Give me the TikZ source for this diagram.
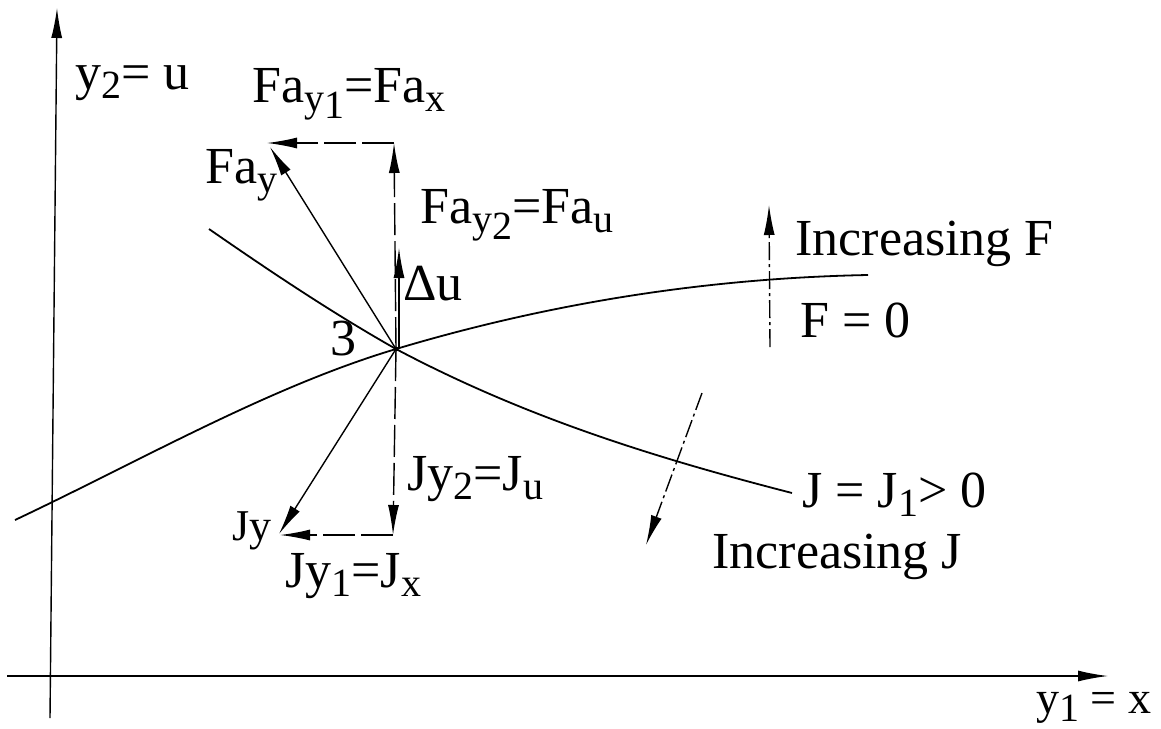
\documentclass[tikz,border=0pt]{standalone}
\usepackage{fontspec}
\setmainfont{Liberation Serif}
\usetikzlibrary{arrows.meta}
\newcommand{\sub}[1]{\raisebox{-0.4ex}{\fontsize{20}{20}\selectfont #1}}

\begin{document}
\begin{tikzpicture}[x=0.5pt,y=-0.5pt,
    vec/.style={-{Latex[length=15pt,width=5.5pt]}, line width=0.7pt},
    comp/.style={vec, dash pattern=on 16pt off 3pt},
    trend/.style={vec, dash pattern=on 9pt off 2pt on 1.5pt off 2pt},
    curve/.style={line width=0.9pt},
    lbl/.style={anchor=base west, inner sep=0pt, font=\fontsize{26}{30}\selectfont}]
  \useasboundingbox (0,0) rectangle (1161,728);
  % axes
  \coordinate (ybot) at (50,718);
  \coordinate (ytop) at (57,8);
  \coordinate (xleft) at (7,676);
  \coordinate (xright) at (1108,676);
  \draw[vec] (ybot) -- (ytop);
  \draw[vec] (xleft) -- (xright);
  % curves F = 0 and J = J1
  \coordinate (p3) at (396,349);
  \coordinate (f0) at (15,520);
  \coordinate (f1) at (868,275);
  \coordinate (j0) at (209,229);
  \coordinate (j1) at (792,493);
  \draw[curve] (f0) .. controls (142,460) and (269,387) .. (p3)
                    .. controls (553,302) and (711,278) .. (f1);
  \draw[curve] (j0) .. controls (271,272) and (334,314) .. (p3)
                    .. controls (528,419) and (660,459) .. (j1);
  \fill (p3) circle (2.5);
  % gradient of F and its parts
  \coordinate (fay) at (270,147);
  \coordinate (fau) at (394,143);
  \coordinate (fax) at (267,143);
  \draw[vec] (p3) -- (fay);
  \draw[comp] (p3) -- (fau);
  \draw[comp] (fau) -- (fax);
  \coordinate (du0) at (399,349);
  \coordinate (du1) at (399,248);
  \draw[vec] (du0) -- (du1);
  % gradient of J and its parts
  \coordinate (jy) at (279,534);
  \coordinate (ju) at (393,535);
  \coordinate (jx) at (280,535);
  \draw[vec] (p3) -- (jy);
  \draw[comp] (p3) -- (ju);
  \draw[comp] (ju) -- (jx);
  % directions of increase
  \coordinate (incF0) at (770,347);
  \coordinate (incF1) at (769,205);
  \coordinate (incJ0) at (702,393);
  \coordinate (incJ1) at (646,545);
  \draw[trend] (incF0) -- (incF1);
  \draw[trend] (incJ0) -- (incJ1);
  % labels
  \foreach \nm/\x/\y/\txt in {
    lblYu/75/89/{y\sub{2}= u},
    lblThree/330/355/{3},
    lblFay/205/183/{Fa\sub{y}},
    lblFax/252/102/{Fa\sub{y\sub{1}}=Fa\sub{x}},
    lblFau/420/223/{Fa\sub{y\sub{2}}=Fa\sub{u}},
    lblDu/403/300/{Δu},
    lblJu/407/490/{Jy\sub{2}=J\sub{u}},
    lblJx/285/587/{Jy\sub{1}=J\sub{x}},
    lblIncF/795/255/{Increasing F},
    lblFzero/800/337/{F = 0},
    lblJone/802/507/{J = J\sub{1}> 0},
    lblIncJ/712/568/{Increasing J}}
  {
    \node[lbl] (\nm) at (\x,\y) {\txt};
  }
  \node[lbl, font=\fontsize{22}{24}\selectfont] (lblJy) at (232,540) {Jy};
  \node[lbl, font=\fontsize{23}{26}\selectfont] (lblYx) at (1036,713) {y\sub{1} = x};
\end{tikzpicture}
\end{document}
